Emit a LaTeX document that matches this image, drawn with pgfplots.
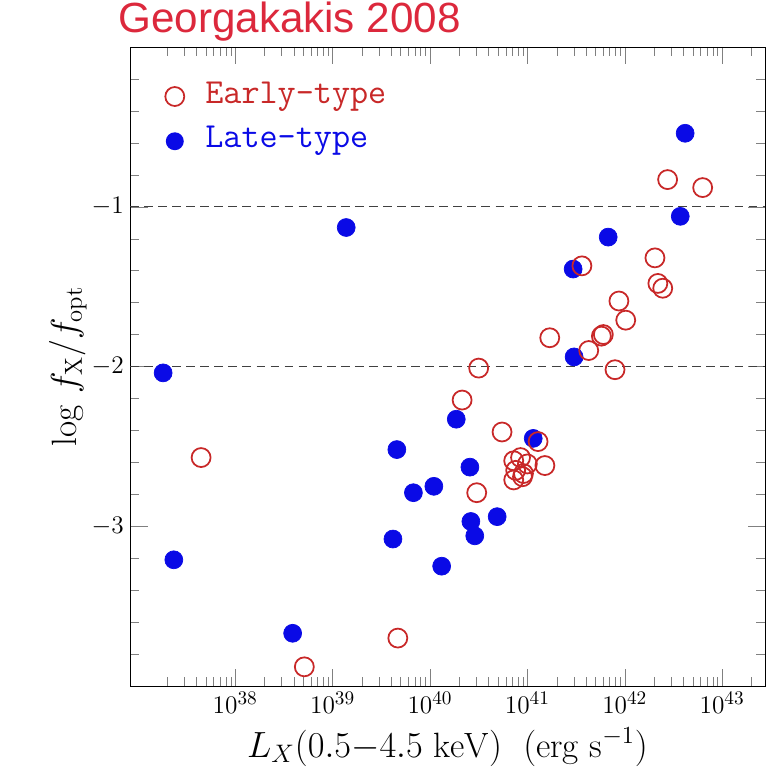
\documentclass[border=0pt]{standalone}
\usepackage{pgfplots}
\pgfplotsset{compat=1.18}
\usepackage{fontspec}
\newfontfamily\titlefont{Liberation Sans}
\definecolor{ered}{RGB}{200,40,40}
\definecolor{lblue}{RGB}{10,10,230}
\definecolor{tred}{RGB}{220,40,60}
\begin{document}
\begin{tikzpicture}
\path (-2.6,-1.78) rectangle (12.74,13.72);
\begin{axis}[
  at={(0,0)}, anchor=south west,
  scale only axis, width=12.7cm, height=12.78cm,
  xmin=36.92, xmax=43.44, ymin=-4, ymax=0,
  xtick={38,39,40,41,42,43},
  xticklabels={$10^{38}$,$10^{39}$,$10^{40}$,$10^{41}$,$10^{42}$,$10^{43}$},
  minor xtick={37.301,37.477,37.602,37.699,37.778,37.845,37.903,37.954,
   38.301,38.477,38.602,38.699,38.778,38.845,38.903,38.954,
   39.301,39.477,39.602,39.699,39.778,39.845,39.903,39.954,
   40.301,40.477,40.602,40.699,40.778,40.845,40.903,40.954,
   41.301,41.477,41.602,41.699,41.778,41.845,41.903,41.954,
   42.301,42.477,42.602,42.699,42.778,42.845,42.903,42.954,43.301},
  ytick={-3,-2,-1}, minor ytick={-3.8,-3.6,-3.4,-3.2,-2.8,-2.6,-2.4,-2.2,-1.8,-1.6,-1.4,-1.2,-0.8,-0.6,-0.4,-0.2},
  yticklabels={$-3$,$-2$,$-1$},
  tick align=inside, major tick length=0.35cm, minor tick length=0.18cm,
  tick label style={font=\fontsize{15}{18}\selectfont},
  xlabel={$L_X(0.5\mathrm{-}4.5~\mathrm{keV})~~(\mathrm{erg~s^{-1}})$},
  ylabel={$\log\, f_{\mathrm X}/f_{\mathrm{opt}}$},
  label style={font=\fontsize{20}{24}\selectfont},
  xlabel style={yshift=-1pt}, ylabel style={yshift=-4pt},
]
\addplot[dash pattern=on 5pt off 3pt, thick, black!75] coordinates {(36.92,-1) (43.44,-1)};
\addplot[dash pattern=on 5pt off 3pt, thick, black!75] coordinates {(36.92,-2) (43.44,-2)};
\addplot[only marks, mark=*, mark size=5.1pt, lblue] coordinates {
(42.62,-0.54) (42.57,-1.06) (41.83,-1.19) (41.47,-1.39) (41.48,-1.94)
(39.14,-1.13) (37.26,-2.04) (37.37,-3.21) (38.59,-3.67) (39.66,-2.52)
(39.62,-3.08) (39.83,-2.79) (40.04,-2.75) (40.12,-3.25) (40.27,-2.33)
(40.41,-2.63) (40.42,-2.97) (40.46,-3.06) (40.69,-2.94) (41.06,-2.45)};
\addplot[only marks, mark=o, mark size=5.4pt, ered, line width=1pt] coordinates {
(42.44,-0.83) (42.80,-0.88) (42.31,-1.32) (42.34,-1.48) (42.39,-1.51)
(41.56,-1.37) (41.94,-1.59) (42.01,-1.71) (41.78,-1.80) (41.76,-1.81)
(41.63,-1.90) (41.90,-2.02) (41.23,-1.82) (40.50,-2.01) (40.33,-2.21)
(40.74,-2.41) (41.11,-2.47) (40.93,-2.57) (40.86,-2.59) (41.00,-2.61)
(41.18,-2.62) (40.88,-2.65) (40.96,-2.67) (40.86,-2.71) (40.95,-2.69)
(40.48,-2.79) (37.65,-2.57) (39.67,-3.70) (38.71,-3.88)};
\node[draw=ered, circle, line width=1pt, minimum size=10.8pt, inner sep=0pt] at (axis cs:37.38,-0.31) {};
\node[anchor=west, ered, font=\fontsize{20}{24}\selectfont\ttfamily, inner sep=0pt] at (axis cs:37.69,-0.31) {Early-type};
\node[fill=lblue, circle, minimum size=10.2pt, inner sep=0pt] at (axis cs:37.38,-0.59) {};
\node[anchor=west, lblue, font=\fontsize{20}{24}\selectfont\ttfamily, inner sep=0pt] at (axis cs:37.69,-0.59) {Late-type};
\end{axis}
\node[anchor=west, tred, font=\titlefont\fontsize{24}{28}\selectfont, inner sep=0pt] at (-0.24,13.28) {Georgakakis 2008};
\end{tikzpicture}
\end{document}
